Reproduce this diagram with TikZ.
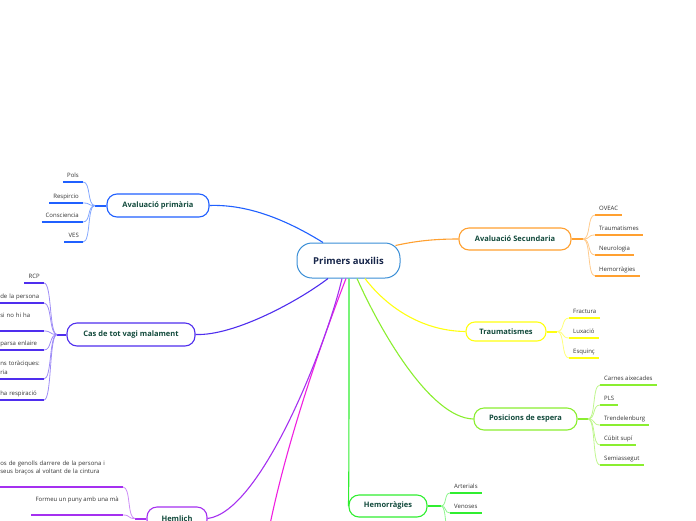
\documentclass[tikz,border=0pt]{standalone}
\usepackage{fontspec}
\setmainfont{Open Sans}
\usetikzlibrary{calc}
\definecolor{cblue}{HTML}{2060FF}
\definecolor{corange}{HTML}{FFA030}
\definecolor{cindigo}{HTML}{4F2EEE}
\definecolor{cpurple}{HTML}{A530F0}
\definecolor{cmagenta}{HTML}{F020E0}
\definecolor{cgreen}{HTML}{30EE30}
\definecolor{clime}{HTML}{8AEE30}
\definecolor{cyellow}{HTML}{FFFF10}
\definecolor{ccenter}{HTML}{3A8ED6}
\definecolor{branchtext}{HTML}{124A3C}
\definecolor{centertext}{HTML}{17264A}
\definecolor{leaftext}{HTML}{333333}
\tikzset{
  mainbox/.style={draw=ccenter, line width=1pt, rounded corners=15pt, fill=white,
    minimum width=103pt, minimum height=35pt, inner sep=0pt,
    font=\bfseries\fontsize{9.5}{11}\selectfont, text=centertext},
  branch/.style={draw=#1, line width=1.1pt, rounded corners=10pt, fill=white, inner sep=0pt,
    font=\bfseries\fontsize{7.5}{9}\selectfont, text=branchtext},
  link/.style={draw=#1, line width=1.1pt},
  stem/.style={draw=#1, line width=2pt},
  twig/.style={draw=#1!55, line width=0.8pt},
  leaf/.style={font=\fontsize{6}{8.5}\selectfont, text=leaftext, inner xsep=4pt, inner ysep=2pt,
    append after command={(\tikzlastnode.south west) edge[draw=#1, line width=1.4pt] (\tikzlastnode.south east)}},
  leafL/.style={leaf=#1, anchor=south east},
  leafR/.style={leaf=#1, anchor=south west},
  clipL/.style={leafL=#1, inner xsep=0.5pt, text width=43pt, align=left},
}
\begin{document}
\begin{tikzpicture}[x=1pt,y=-1pt]
\useasboundingbox (0,0) rectangle (696,520);
\clip (0,0) rectangle (696,520);

% central node
\node[mainbox] (pa) at (348.5,260.5) {Primers auxilis};

% branch nodes
\node[branch=cblue, minimum width=102pt, minimum height=23pt] (ap) at (158,205.5) {Avaluació primària};
\node[branch=cindigo, minimum width=128pt, minimum height=23pt] (cas) at (131,334.5) {Cas de tot vagi malament};
\node[branch=cpurple, minimum width=60pt, minimum height=23pt] (hm) at (177,518.5) {Hemlich};
\node[branch=corange, minimum width=112pt, minimum height=22pt] (as) at (515,239) {Avaluació Secundaria};
\node[branch=cyellow, rounded corners=9pt, minimum width=80pt, minimum height=19pt] (tr) at (506,331.5) {Traumatismes};
\node[branch=clime, minimum width=103pt, minimum height=22pt] (pe) at (525.5,419) {Posicions de espera};
\node[branch=cgreen, minimum width=78pt, minimum height=22pt] (hem) at (388,506) {Hemorràgies};

% main connectors
\draw[link=cblue] ($(pa.north)+(-25.5,0)$) .. controls (290,222) and (250,204) .. (ap.east);
\draw[link=corange] ($(pa.north east)+(-5,3)$) .. controls (420,240) and (440,239) .. (as.west);
\draw[link=cyellow] ($(pa.south)+(16.5,0)$) .. controls (385,305) and (420,331) .. (tr.west);
\draw[link=clime] ($(pa.south)+(8.5,0)$) .. controls (380,330) and (430,418) .. (pe.west);
\draw[link=cgreen] ($(pa.south)+(0.5,0)$) .. controls (349,400) and (349,480) .. (hem.west);
\coordinate (mgend) at (266,545);
\draw[link=cmagenta] ($(pa.south)+(-2.5,0)$) .. controls (330,320) and (285,440) .. (mgend);
\draw[link=cpurple] ($(pa.south)+(-6.5,0)$) .. controls (328,340) and (262,512) .. (hm.east);
\draw[link=cindigo] ($(pa.south)+(-20.5,0)$) .. controls (300,300) and (235,336) .. (cas.east);

% junctions
\coordinate (apj) at (95,205.5);
\coordinate (casj) at (57,334.5);
\coordinate (hmj) at (135,518.5);
\coordinate (asj) at (583,239);
\coordinate (trj) at (557,331.5);
\coordinate (pej) at (588,419);
\coordinate (hemj) at (441,506);
\draw[stem=cblue] (ap.west) -- (apj);
\draw[stem=cindigo] (cas.west) -- (casj);
\draw[stem=cpurple] (hm.west) -- (hmj);
\draw[stem=corange] (as.east) -- (asj);
\draw[stem=cyellow] (tr.east) -- (trj);
\draw[stem=clime] (pe.east) -- (pej);
\draw[stem=cgreen] (hem.east) -- (hemj);

% leaves: Avaluacio primaria
\node[leafL=cblue] (ap1) at (83,182) {Pols\strut};
\node[leafL=cblue] (ap2) at (83,203) {Respircio\strut};
\node[leafL=cblue] (ap3) at (83,222) {Consciencia\strut};
\node[leafL=cblue] (ap4) at (83,242) {VES\strut};
\foreach \n in {ap1,ap2,ap3,ap4}
  \draw[twig=cblue] (apj) .. controls +(-8,0) and +(8,0) .. (\n.south east);

% leaves: Cas de tot vagi malament
\node[leafL=cindigo] (c1) at (44,283) {RCP\strut};
\node[clipL=cindigo] (c2) at (44,303) {de la persona\strut};
\node[clipL=cindigo] (c3) at (44,331) {si no hi ha\\\strut};
\node[clipL=cindigo] (c4) at (44,350) {parsa enlaire\strut};
\node[clipL=cindigo] (c5) at (44,379) {ns toràciques:\\ria\strut};
\node[clipL=cindigo] (c6) at (44,400) {ha respiració\strut};
\foreach \n in {c1,c2,c3,c4,c5,c6}
  \draw[twig=cindigo] (casj) .. controls +(-8,0) and +(8,0) .. (\n.south east);

% leaves: Hemlich
\node[leafL=cpurple, inner xsep=0.5pt, text width=122pt, align=left] (h1) at (123,487)
  {os de genolls darrere de la persona i\\seus braços al voltant de la cintura\\\strut};
\node[leafL=cpurple, align=left] (h2) at (123,515) {Formeu un puny amb una mà\\\strut};
\foreach \n in {h1,h2}
  \draw[twig=cpurple] (hmj) .. controls +(-8,0) and +(8,0) .. (\n.south east);

% leaves: Avaluacio Secundaria
\node[leafR=corange] (as1) at (595,215) {OVEAC\strut};
\node[leafR=corange] (as2) at (595,235) {Traumatismes\strut};
\node[leafR=corange] (as3) at (595,255) {Neurologia\strut};
\node[leafR=corange] (as4) at (595,276) {Hemorràgies\strut};
\foreach \n in {as1,as2,as3,as4}
  \draw[twig=corange] (asj) .. controls +(8,0) and +(-8,0) .. (\n.south west);

% leaves: Traumatismes
\node[leafR=cyellow] (tr1) at (569,318) {Fractura\strut};
\node[leafR=cyellow] (tr2) at (569,338) {Luxació\strut};
\node[leafR=cyellow] (tr3) at (569,358) {Esquinç\strut};
\foreach \n in {tr1,tr2,tr3}
  \draw[twig=cyellow] (trj) .. controls +(8,0) and +(-8,0) .. (\n.south west);

% leaves: Posicions de espera
\node[leafR=clime] (pe1) at (600,385) {Carnes aixecades\strut};
\node[leafR=clime] (pe2) at (600,405) {PLS\strut};
\node[leafR=clime] (pe3) at (600,425) {Trendelenburg\strut};
\node[leafR=clime] (pe4) at (600,445) {Cúbit supí\strut};
\node[leafR=clime] (pe5) at (600,465) {Semiassegut\strut};
\foreach \n in {pe1,pe2,pe3,pe4,pe5}
  \draw[twig=clime] (pej) .. controls +(8,0) and +(-8,0) .. (\n.south west);

% leaves: Hemorragies
\node[leafR=cgreen] (hm1) at (450,493) {Arterials\strut};
\node[leafR=cgreen] (hm2) at (450,513) {Venoses\strut};
\coordinate (hm3) at (450,533);
\foreach \n in {hm1,hm2}
  \draw[twig=cgreen] (hemj) .. controls +(6,0) and +(-6,0) .. (\n.south west);
\draw[twig=cgreen] (hemj) .. controls +(6,0) and +(-6,0) .. (hm3);
\end{tikzpicture}
\end{document}
